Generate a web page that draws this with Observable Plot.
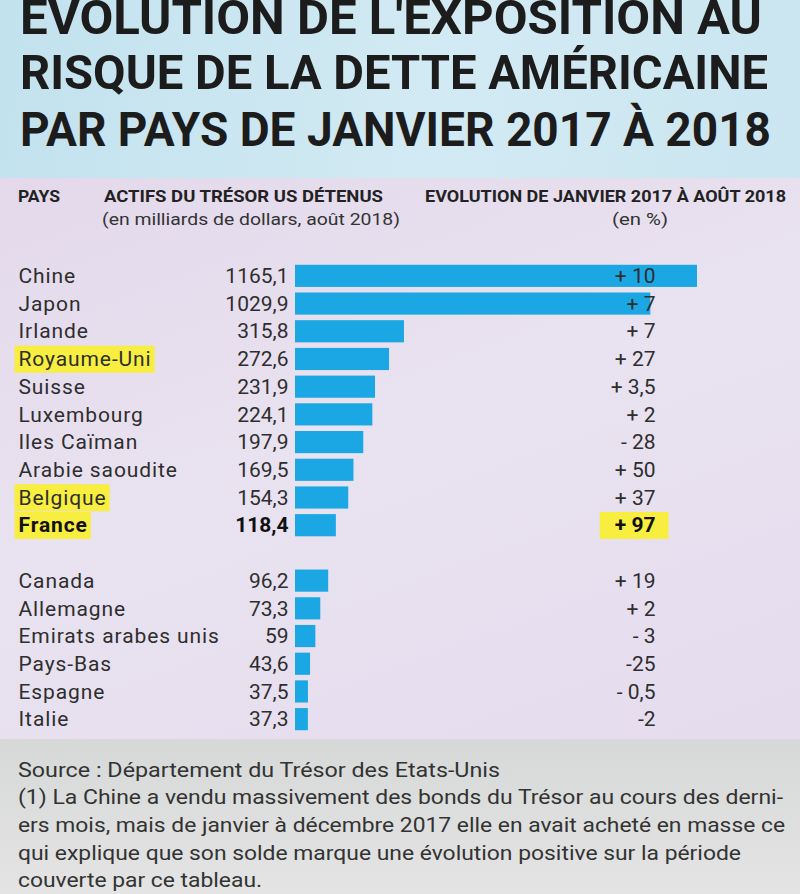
<!DOCTYPE html>
<html><head><meta charset="utf-8">
<script src="https://cdn.jsdelivr.net/npm/d3@7"></script>
<script src="https://cdn.jsdelivr.net/npm/@observablehq/plot@0.6"></script>
<style>
html,body{margin:0;padding:0;}
body{width:800px;height:894px;overflow:hidden;position:relative;font-family:Roboto,"Noto Sans",sans-serif;color:#2e2e2e;background:#e6dfee;}
#top{position:absolute;left:0;top:0;width:800px;height:178px;background:linear-gradient(100deg,#c2e2ee 0%,#d2eaf3 55%,#cbe6f1 100%);}
#mid{position:absolute;left:0;top:178px;width:800px;height:561px;background:linear-gradient(160deg,#e3d9eb 0%,#e9e2f0 45%,#e5ddee 100%);}
#foot{position:absolute;left:0;top:739px;width:800px;height:155px;background:linear-gradient(180deg,#d7d9d8 0%,#e3e4e3 100%);}
.ln{position:absolute;white-space:nowrap;transform-origin:0 0;line-height:1;}
.title{font-weight:700;font-size:49px;color:#1c1c1c;}
.hd{font-weight:700;font-size:17px;color:#222;}
.sub{font-weight:400;font-size:17px;color:#333;}
.ft{font-weight:400;font-size:20px;color:#333;}
#chart{position:absolute;left:0;top:240px;}
</style></head>
<body>
<div id="top"></div><div id="mid"></div><div id="foot"></div>
<div id="texts"></div>
<div id="chart"></div>
<script>
// ---- data ----
const titleLines = ["EVOLUTION DE L'EXPOSITION AU", "RISQUE DE LA DETTE AMÉRICAINE", "PAR PAYS DE JANVIER 2017 À 2018"];
const headerLabels = ["PAYS", "ACTIFS DU TRÉSOR US DÉTENUS", "EVOLUTION DE JANVIER 2017 À AOÛT 2018"];
const subHeaderLabels = ["(en milliards de dollars, août 2018)", "(en %)"];
const countries = ["Chine","Japon","Irlande","Royaume-Uni","Suisse","Luxembourg","Iles Caïman","Arabie saoudite","Belgique","France","Canada","Allemagne","Emirats arabes unis","Pays-Bas","Espagne","Italie"];
const holdings = [1165.1,1029.9,315.8,272.6,231.9,224.1,197.9,169.5,154.3,118.4,96.2,73.3,59,43.6,37.5,37.3];
const evolutionLabels = ["+ 10","+ 7","+ 7","+ 27","+ 3,5","+ 2","- 28","+ 50","+ 37","+ 97","+ 19","+ 2","- 3","-25","- 0,5","-2"];
const highlighted = ["Royaume-Uni","Belgique","France"];
const emphasised = ["France"];
const footerLines = [
  "Source : Département du Trésor des Etats-Unis",
  "(1) La Chine a vendu massivement des bonds du Trésor au cours des derni-",
  "ers mois, mais de janvier à décembre 2017 elle en avait acheté en masse ce",
  "qui explique que son solde marque une évolution positive sur la période",
  "couverte par ce tableau."
];

// ---- html text helpers ----
const texts = document.getElementById("texts");
function addLine(txt, cls, left, top, width) {
  const s = document.createElement("span");
  s.className = "ln " + cls;
  s.textContent = txt;
  s.style.left = left + "px";
  s.style.top = top + "px";
  texts.appendChild(s);
  if (width) {
    const w = s.getBoundingClientRect().width;
    s.style.transform = `scaleX(${width / w})`;
  }
  return s;
}
// title
const titleSpec = [[20, -7, 742], [20, 48, 748], [20, 105, 751]];
titleLines.forEach((t, i) => addLine(t, "title", titleSpec[i][0], titleSpec[i][1], titleSpec[i][2]));
// headers
addLine(headerLabels[0], "hd", 18, 188, 42);
addLine(headerLabels[1], "hd", 104, 188, 279);
addLine(headerLabels[2], "hd", 425, 188, 361);
addLine(subHeaderLabels[0], "sub", 102, 211, 298);
addLine(subHeaderLabels[1], "sub", 612, 211, 56);
// footer
const footSpec = [[760, 482], [787, 765], [815, 767], [843, 723], [870, 244]];
footerLines.forEach((t, i) => addLine(t, "ft", 18, footSpec[i][0], footSpec[i][1]));

// ---- chart ----
const rows = countries.map((c, i) => ({country: c, value: holdings[i], evo: evolutionLabels[i]}));
const fmt = v => String(v).replace(".", ",");
const GAP = "\u00a0";
const yDomain = [...countries.slice(0, 10), GAP, ...countries.slice(10)];
const isEm = d => emphasised.includes(d.country);
const isHl = d => highlighted.includes(d.country);
const tag = s => () => s;

const chart = Plot.plot({
  width: 800, height: 500,
  marginTop: 22, marginBottom: 7, marginLeft: 0, marginRight: 0,
  style: {background: "transparent", fontFamily: "Roboto, sans-serif", fontSize: "21px", overflow: "visible"},
  x: {domain: [0, 1165.1], range: [295, 697], axis: null},
  y: {domain: yDomain, axis: null, paddingInner: 0.2, paddingOuter: 0.1, round: false},
  marks: [
    Plot.barX(rows, {x: "value", y: "country", fill: "#1ba7e4"}),
    Plot.text(rows.filter(d => !isHl(d)), {y: "country", text: "country", frameAnchor: "left", dx: 18, textAnchor: "start", fill: "#2e2e2e", ariaLabel: tag("name")}),
    Plot.text(rows.filter(d => isHl(d) && !isEm(d)), {y: "country", text: "country", frameAnchor: "left", dx: 18, textAnchor: "start", fill: "#2e2e2e", ariaLabel: tag("name-hl")}),
    Plot.text(rows.filter(d => isEm(d)), {y: "country", text: "country", frameAnchor: "left", dx: 18, textAnchor: "start", fill: "#111", fontWeight: "bold", ariaLabel: tag("name-hl")}),
    Plot.text(rows.filter(d => !isEm(d)), {x: 0, y: "country", text: d => fmt(d.value), textAnchor: "end", dx: -7, fill: "#2e2e2e"}),
    Plot.text(rows.filter(d => isEm(d)), {x: 0, y: "country", text: d => fmt(d.value), textAnchor: "end", dx: -7, fill: "#111", fontWeight: "bold"}),
    Plot.text(rows.filter(d => !isEm(d)), {y: "country", text: "evo", frameAnchor: "right", dx: -145, textAnchor: "end", fill: "#2e2e2e"}),
    Plot.text(rows.filter(d => isEm(d)), {y: "country", text: "evo", frameAnchor: "right", dx: -145, textAnchor: "end", fill: "#111", fontWeight: "bold", ariaLabel: tag("evo-hl")})
  ]
});
document.getElementById("chart").appendChild(chart);

function sel(label) {
  const out = [];
  chart.querySelectorAll(`[aria-label="${label}"]`).forEach(el => {
    if (el.tagName.toLowerCase() === "text") out.push(el); else out.push(...el.querySelectorAll("text"));
  });
  return out;
}
// wider tracking on country names (reference typeface is wider)
[...sel("name"), ...sel("name-hl")].forEach(t => t.setAttribute("letter-spacing", "0.9"));

// yellow highlight boxes behind highlighted texts
const svgRect = chart.getBoundingClientRect();
const firstG = chart.querySelector("g");
function highlight(label, padL, padR) {
  sel(label).forEach(t => {
    const r = t.getBoundingClientRect();
    const cy = (r.top + r.bottom) / 2 - svgRect.top;
    const rect = document.createElementNS("http://www.w3.org/2000/svg", "rect");
    rect.setAttribute("x", r.left - svgRect.left - padL);
    rect.setAttribute("width", r.width + padL + padR);
    rect.setAttribute("y", cy - 13.5);
    rect.setAttribute("height", 27);
    rect.setAttribute("fill", "#f7ee40");
    chart.insertBefore(rect, firstG);
  });
}
highlight("name-hl", 4, 3);
highlight("evo-hl", 15, 13);
</script>
</body></html>
